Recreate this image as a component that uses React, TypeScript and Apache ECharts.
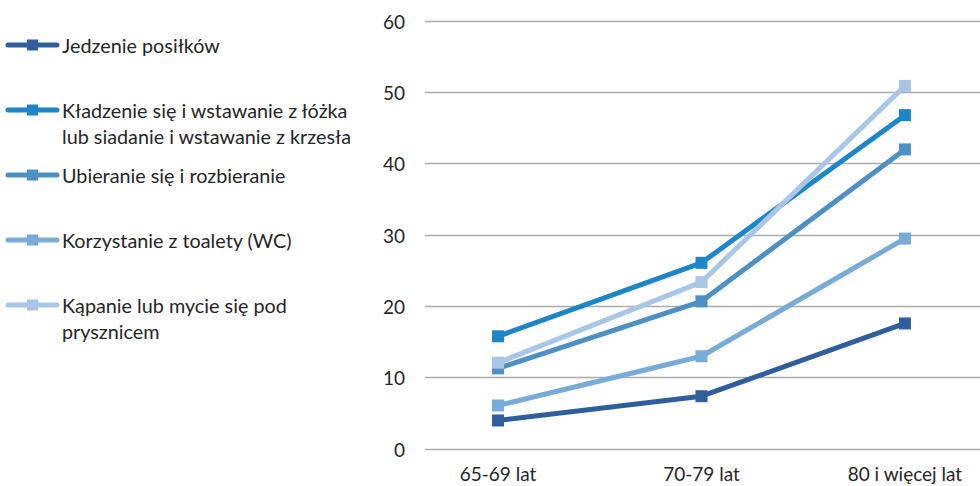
import React, { useEffect, useRef } from "react";
import * as echarts from "echarts";

const categories = ["65-69 lat", "70-79 lat", "80 i więcej lat"];
const seriesNames = [
  "Jedzenie posiłków",
  "Kładzenie się i wstawanie z łóżka lub siadanie i wstawanie z krzesła",
  "Ubieranie się i rozbieranie",
  "Korzystanie z toalety (WC)",
  "Kąpanie lub mycie się pod prysznicem",
];
const legendLines = [
  ["Jedzenie posiłków"],
  ["Kładzenie się i wstawanie z łóżka", "lub siadanie i wstawanie z krzesła"],
  ["Ubieranie się i rozbieranie"],
  ["Korzystanie z toalety (WC)"],
  ["Kąpanie lub mycie się pod", "prysznicem"],
];
const jedzenie = [4.0, 7.4, 17.6];
const kladzenie = [15.8, 26.1, 46.8];
const ubieranie = [11.3, 20.7, 42.0];
const korzystanie = [6.1, 13.0, 29.5];
const kapanie = [12.1, 23.4, 50.9];
const seriesValues = [jedzenie, kladzenie, ubieranie, korzystanie, kapanie];
const yTicks = [0, 10, 20, 30, 40, 50, 60];

const colors = ["#2F5E9F", "#1C86C8", "#4D90C5", "#76ABDA", "#A9C6E6"];
const legendY = [45, 110, 175, 240, 305];
const FONT = "Lato";
const FS = 19;
const LFS = 19.8;

export default function App() {
  const ref = useRef<HTMLDivElement>(null);
  useEffect(() => {
    if (!ref.current) return;
    const chart = echarts.init(ref.current, null, { renderer: "svg" });
    const graphics: any[] = [];
    seriesNames.forEach((_, i) => {
      const y = legendY[i];
      graphics.push({
        type: "line",
        shape: { x1: 8, y1: y, x2: 57, y2: y },
        style: { stroke: colors[i], lineWidth: 5, lineCap: "round" },
      });
      graphics.push({
        type: "rect",
        shape: { x: 27, y: y - 5.5, width: 11, height: 11 },
        style: { fill: colors[i] },
      });
      legendLines[i].forEach((t, j) => {
        graphics.push({
          type: "text",
          x: 62,
          y: y + j * 26,
          style: {
            text: t,
            fill: "#262626",
            font: `${LFS}px ${FONT}`,
            verticalAlign: "middle",
            align: "left",
          },
        });
      });
    });
    chart.setOption({
      animation: false,
      grid: { left: 425, right: 0, top: 21, bottom: 37, containLabel: false },
      xAxis: {
        type: "value",
        min: -0.359,
        max: 2.369,
        axisLine: { show: false },
        axisTick: { show: false },
        splitLine: { show: false },
        axisLabel: {
          customValues: [0, 1, 2],
          formatter: (v: number) => categories[Math.round(v)] ?? "",
          color: "#262626",
          fontSize: FS,
          fontFamily: FONT,
          margin: 15,
        },
      },
      yAxis: {
        type: "value",
        min: yTicks[0],
        max: yTicks[yTicks.length - 1],
        interval: 10,
        axisLine: { show: false },
        axisTick: { show: false },
        splitLine: { lineStyle: { color: "#ABABAB", width: 1.3 } },
        axisLabel: {
          color: "#262626",
          fontSize: FS,
          fontFamily: FONT,
          margin: 20,
        },
      },
      graphic: graphics,
      series: seriesNames.map((name, i) => ({
        name,
        type: "line",
        data: seriesValues[i].map((v, k) => [k, v]),
        symbol: "rect",
        symbolSize: 12,
        lineStyle: { color: colors[i], width: 5 },
        itemStyle: { color: colors[i] },
        z: 2 + i,
      })),
    });
    return () => chart.dispose();
  }, []);
  return <div ref={ref} style={{ width: 980, height: 486, position: "absolute", left: 0, top: 0 }} />;
}
